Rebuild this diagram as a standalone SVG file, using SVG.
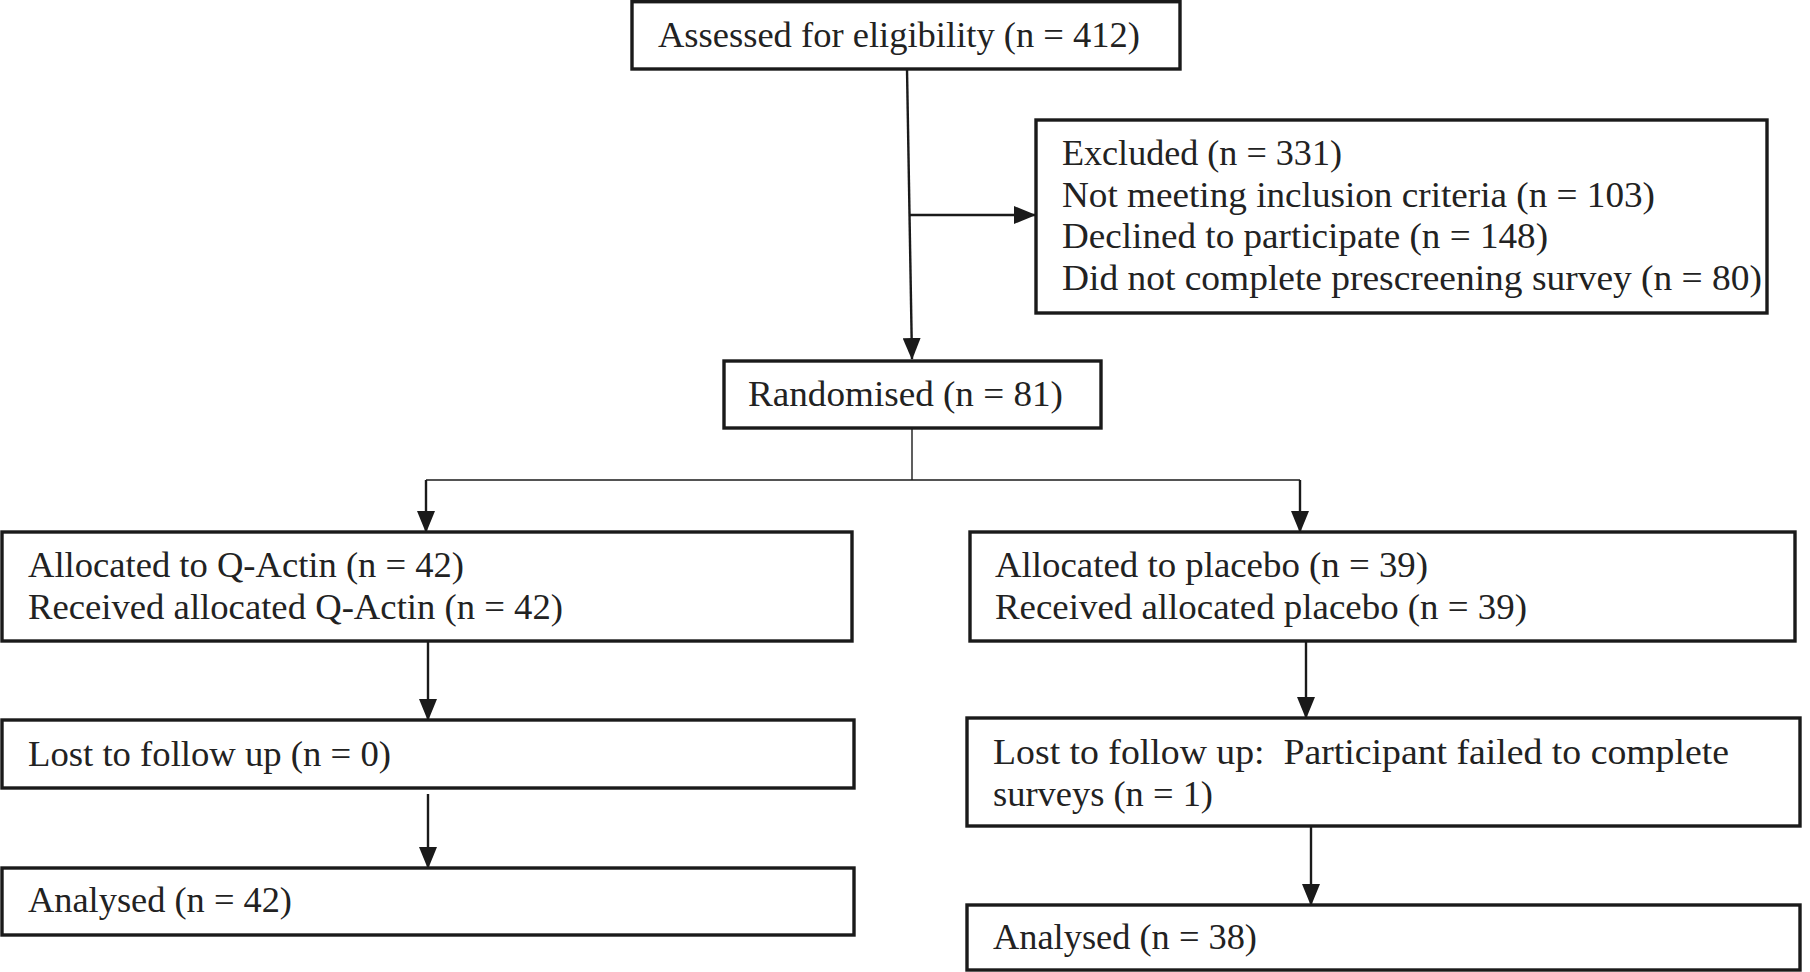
<svg xmlns="http://www.w3.org/2000/svg" width="1810" height="972" viewBox="0 0 1810 972">
<style>
.box{fill:#fff;stroke:#1a1a1a;stroke-width:3.4}
.t{font-family:"Liberation Serif","DejaVu Serif",serif;font-size:35px;fill:#222}
.c{stroke:#1a1a1a;stroke-width:2.4;fill:none}
.thin{stroke:#1a1a1a;stroke-width:1.4;fill:none}
</style>
<defs>
<marker id="ah" markerUnits="userSpaceOnUse" markerWidth="22" markerHeight="18" refX="21" refY="9" orient="auto">
<path d="M0,0 L22,9 L0,18 Z" fill="#1a1a1a"/>
</marker>
</defs>
<rect width="1810" height="972" fill="#fff"/>
<g id="connectors">
<path class="c" d="M907,69 L912,359" marker-end="url(#ah)"/>
<path class="c" d="M909,215 L1035,215" marker-end="url(#ah)"/>
<path class="thin" d="M912,428 L912,480"/>
<path class="thin" d="M426,480 L1300,480"/>
<path class="c" d="M426,480 L426,532" marker-end="url(#ah)"/>
<path class="c" d="M1300,480 L1300,532" marker-end="url(#ah)"/>
<path class="c" d="M428,641 L428,720" marker-end="url(#ah)"/>
<path class="c" d="M428,794 L428,868" marker-end="url(#ah)"/>
<path class="c" d="M1306,641 L1306,718" marker-end="url(#ah)"/>
<path class="c" d="M1311,826 L1311,905" marker-end="url(#ah)"/>
</g>
<g id="assessed">
<rect class="box" x="632" y="1.7" width="548" height="67.3"/>
<text class="t" x="658" y="47" textLength="482" lengthAdjust="spacingAndGlyphs">Assessed for eligibility (n = 412)</text>
</g>
<g id="excluded">
<rect class="box" x="1036" y="120" width="731" height="193"/>
<text class="t" x="1062" y="165" textLength="280" lengthAdjust="spacingAndGlyphs">Excluded (n = 331)</text>
<text class="t" x="1062" y="207" textLength="593" lengthAdjust="spacingAndGlyphs">Not meeting inclusion criteria (n = 103)</text>
<text class="t" x="1062" y="248" textLength="486" lengthAdjust="spacingAndGlyphs">Declined to participate (n = 148)</text>
<text class="t" x="1062" y="290" textLength="700" lengthAdjust="spacingAndGlyphs">Did not complete prescreening survey (n = 80)</text>
</g>
<g id="randomised">
<rect class="box" x="724" y="361" width="377" height="67"/>
<text class="t" x="748" y="406" textLength="315" lengthAdjust="spacingAndGlyphs">Randomised (n = 81)</text>
</g>
<g id="alloc-qactin">
<rect class="box" x="2" y="532" width="850" height="109"/>
<text class="t" x="28" y="577" textLength="436" lengthAdjust="spacingAndGlyphs">Allocated to Q-Actin (n = 42)</text>
<text class="t" x="28" y="619" textLength="535" lengthAdjust="spacingAndGlyphs">Received allocated Q-Actin (n = 42)</text>
</g>
<g id="alloc-placebo">
<rect class="box" x="970" y="532" width="825" height="109"/>
<text class="t" x="995" y="577" textLength="433" lengthAdjust="spacingAndGlyphs">Allocated to placebo (n = 39)</text>
<text class="t" x="995" y="619" textLength="532" lengthAdjust="spacingAndGlyphs">Received allocated placebo (n = 39)</text>
</g>
<g id="lost-qactin">
<rect class="box" x="2" y="720" width="852" height="68"/>
<text class="t" x="28" y="766" textLength="363" lengthAdjust="spacingAndGlyphs">Lost to follow up (n = 0)</text>
</g>
<g id="analysed-qactin">
<rect class="box" x="2" y="868" width="852" height="67"/>
<text class="t" x="28" y="912" textLength="264" lengthAdjust="spacingAndGlyphs">Analysed (n = 42)</text>
</g>
<g id="lost-placebo">
<rect class="box" x="967" y="718" width="833" height="108"/>
<text class="t" x="993" y="764" textLength="736" lengthAdjust="spacingAndGlyphs" xml:space="preserve">Lost to follow up:  Participant failed to complete</text>
<text class="t" x="993" y="806" textLength="220" lengthAdjust="spacingAndGlyphs">surveys (n = 1)</text>
</g>
<g id="analysed-placebo">
<rect class="box" x="967" y="905" width="833" height="65"/>
<text class="t" x="993" y="949" textLength="264" lengthAdjust="spacingAndGlyphs">Analysed (n = 38)</text>
</g>
</svg>
